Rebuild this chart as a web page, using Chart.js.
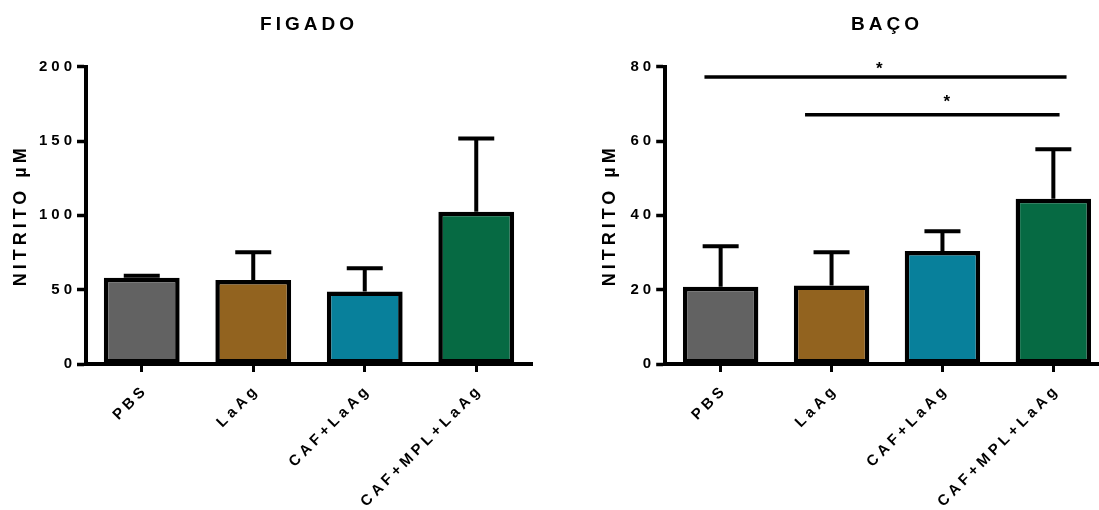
<!DOCTYPE html>
<html>
<head>
<meta charset="utf-8">
<script src="https://cdn.jsdelivr.net/npm/chart.js@4.4.1/dist/chart.umd.min.js"></script>
<style>
  body { margin: 0; background: #fff; }
  #wrap { position: relative; width: 1099px; height: 510px; overflow: hidden; }
  canvas { position: absolute; top: 0; }
</style>
</head>
<body>
<div id="wrap">
  <canvas id="figado-chart" width="550" height="510" style="left:0"></canvas>
  <canvas id="baco-chart" width="570" height="510" style="left:550px"></canvas>
</div>
<script>
const groups = ['PBS', 'LaAg', 'CAF+LaAg', 'CAF+MPL+LaAg'];
const groupColors = ['#626262', '#92631f', '#08809b', '#066a43'];

// FIGADO panel
const figadoMeans = [58, 56.5, 48.8, 102.5];
const figadoSD = [1.3, 18.7, 15.6, 49.2];
const figadoTicks = [0, 50, 100, 150, 200];

// BACO panel
const bacoMeans = [20.8, 21.1, 30.4, 44.5];
const bacoSD = [10.9, 9.0, 5.3, 13.3];
const bacoTicks = [0, 20, 40, 60, 80];

// significance bars: from / to (category index), level, star position, star level
const bracketFrom = [-0.146, 0.761];
const bracketTo = [3.119, 3.056];
const bracketLevel = [77.2, 67.1];
const starAt = [1.43, 2.04];
const starLevel = [80.0, 71.3];

const fontFamily = "'Liberation Sans', Arial, sans-serif";
Chart.defaults.color = '#000';
Chart.defaults.font.family = fontFamily;
Chart.defaults.font.weight = 'bold';

const spacingPlugin = {
    id: 'spacing',
    beforeLayout: (chart) => { chart.ctx.letterSpacing = '4px'; },
    beforeDraw: (chart) => { chart.ctx.letterSpacing = '4px'; }
};

const errorBarsPlugin = {
    id: 'errorBars',
    afterDatasetsDraw: (chart) => {
        const ctx = chart.ctx;
        const yScale = chart.scales.y;
        const ds = chart.data.datasets[0];
        const meta = chart.getDatasetMeta(0);
        ctx.save();
        ctx.strokeStyle = '#000';
        ctx.lineWidth = 4;
        meta.data.forEach((bar, i) => {
            const yTop = yScale.getPixelForValue(ds.data[i] + ds.errors[i]);
            const yBase = yScale.getPixelForValue(ds.data[i]);
            ctx.beginPath();
            ctx.moveTo(bar.x, yBase);
            ctx.lineTo(bar.x, yTop);
            ctx.moveTo(bar.x - 18, yTop);
            ctx.lineTo(bar.x + 18, yTop);
            ctx.stroke();
        });
        ctx.restore();
    }
};

const bracketsPlugin = {
    id: 'brackets',
    afterDraw: (chart, args, opts) => {
        if (!opts.show) return;
        const ctx = chart.ctx;
        const x = chart.scales.x;
        const y = chart.scales.y;
        ctx.save();
        ctx.strokeStyle = '#000';
        ctx.fillStyle = '#000';
        ctx.lineWidth = 3.5;
        ctx.letterSpacing = '0px';
        ctx.font = 'bold 17px ' + fontFamily;
        ctx.textAlign = 'center';
        ctx.textBaseline = 'middle';
        bracketLevel.forEach((level, i) => {
            const py = y.getPixelForValue(level);
            ctx.beginPath();
            ctx.moveTo(x.getPixelForValue(bracketFrom[i]), py);
            ctx.lineTo(x.getPixelForValue(bracketTo[i]), py);
            ctx.stroke();
            ctx.fillText('*', x.getPixelForValue(starAt[i]), y.getPixelForValue(starLevel[i]) + 3);
        });
        ctx.restore();
    }
};

const makeChart = (canvasId, title, means, sd, ticks, yWidth, titlePad, padRight, showBrackets) => {
    const el = document.querySelector(canvasId);
    return new Chart(el.getContext('2d'), {
        type: 'bar',
        data: {
            labels: groups,
            datasets: [{
                data: means,
                errors: sd,
                backgroundColor: groupColors,
                borderColor: '#000',
                borderWidth: 4.5,
                borderSkipped: false,
                categoryPercentage: 1,
                barPercentage: 0.68
            }]
        },
        options: {
            responsive: false,
            animation: false,
            devicePixelRatio: 1,
            layout: { padding: { left: 0, right: padRight, top: 0, bottom: 0 } },
            plugins: {
                legend: { display: false },
                tooltip: { enabled: false },
                title: {
                    display: true,
                    text: title,
                    fullSize: false,
                    font: { size: 19, weight: 'bold' },
                    padding: { top: 13.6, bottom: 30.3 }
                },
                brackets: { show: showBrackets }
            },
            scales: {
                x: {
                    afterFit: (s) => { s.height = 146; },
                    grid: { offset: false, drawOnChartArea: false, tickLength: 8, tickWidth: 3, tickColor: '#000' },
                    border: { color: '#000', width: 4 },
                    ticks: {
                        autoSkip: false,
                        minRotation: 45,
                        maxRotation: 45,
                        padding: 9,
                        labelOffset: 4,
                        font: { size: 15, weight: 'bold' }
                    }
                },
                y: {
                    min: ticks[0],
                    max: ticks[ticks.length - 1],
                    afterFit: (s) => { s.width = yWidth; },
                    afterBuildTicks: (s) => { s.ticks = ticks.map((v) => ({ value: v })); },
                    grid: { drawOnChartArea: false, tickLength: 9, tickWidth: 3.5, tickColor: '#000' },
                    border: { color: '#000', width: 4 },
                    ticks: { padding: 1, font: { size: 15, weight: 'bold' } },
                    title: {
                        display: true,
                        text: 'NITRITO µM',
                        font: { size: 18, weight: 'bold' },
                        padding: { top: titlePad, bottom: 0 }
                    }
                }
            }
        },
        plugins: [spacingPlugin, errorBarsPlugin, bracketsPlugin]
    });
};

makeChart('#figado-chart', 'FIGADO', figadoMeans, figadoSD, figadoTicks, 86, 10.2, 18, false);
makeChart('#baco-chart', 'BAÇO', bacoMeans, bacoSD, bacoTicks, 115.2, 49.7, 11.2, true);
</script>
</body>
</html>
